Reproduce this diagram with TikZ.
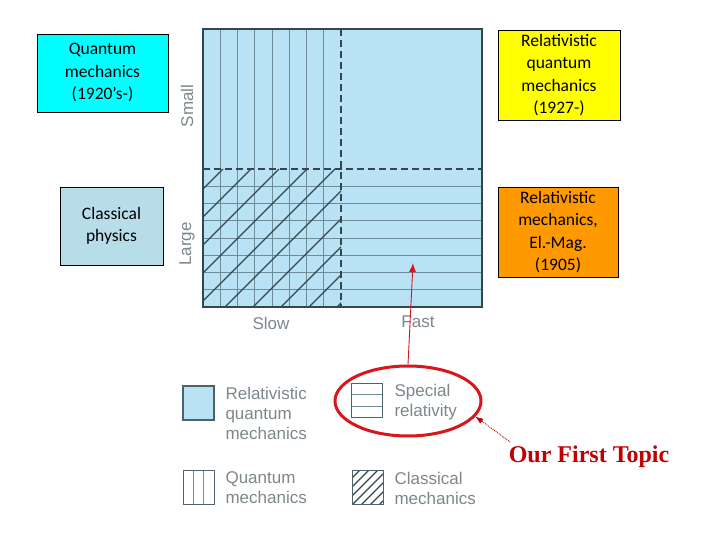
\documentclass[tikz,border=0pt]{standalone}
\usepackage{fontspec}
\setmainfont{Carlito}
\newfontfamily\chartfont{Liberation Sans}
\newfontfamily\topicfont{Liberation Serif}
\usepackage{xcolor}
\usetikzlibrary{arrows,arrows.meta,shapes}

\definecolor{chartblue}{HTML}{B9E3F5}
\definecolor{gridline}{HTML}{6F8C99}
\definecolor{hatchline}{HTML}{34474F}
\definecolor{boxcyan}{HTML}{00FFFF}
\definecolor{boxgrey}{HTML}{B7DDE8}
\definecolor{boxyellow}{HTML}{FFFF00}
\definecolor{boxorange}{HTML}{FF9900}
\definecolor{labelgrey}{HTML}{7D878C}
\definecolor{topicred}{HTML}{C00000}
\definecolor{ringred}{HTML}{D9161C}

\begin{document}
\begin{tikzpicture}[x=1pt,y=-1pt]
\tikzstyle{every node}=[font=\fontsize{17.5}{22.5}\selectfont]
\tikzstyle{era}=[draw,thin,align=center,inner sep=2pt]
\tikzstyle{axis}=[font=\chartfont\fontsize{17}{20}\selectfont,text=labelgrey]
\tikzstyle{key}=[draw=gridline!70!black,line width=1.4pt,minimum width=31pt,minimum height=34pt,inner sep=0pt]
\tikzstyle{keytext}=[font=\chartfont\fontsize{17}{20}\selectfont,text=labelgrey,align=left,anchor=west]
\tikzstyle{border}=[hatchline,dash pattern=on 7pt off 4pt,line width=1.4pt]
\useasboundingbox[fill=white] (0,0) rectangle (720,540);

% chart
\fill[chartblue] (203,29) rectangle (482,307);
\foreach \i in {1,...,7}
  \draw[gridline,line width=0.9pt] ({203+17.25*\i},29) -- ({203+17.25*\i},307);
\foreach \i in {1,...,7}
  \draw[gridline,line width=0.9pt] (203,{169+17.25*\i}) -- (482,{169+17.25*\i});
\begin{scope}
\clip (203,169) rectangle (341,307);
\foreach \c in {392,420,...,644}
  \draw[hatchline,line width=1.3pt] ({\c-307},307) -- ({\c-169},169);
\end{scope}
\draw[border] (203,169) -- (482,169);
\draw[border] (341,29) -- (341,307);
\draw[hatchline,line width=1.5pt] (203,29) rectangle (482,307);

\node at (271,323) [axis] (slow) {Slow};
\node at (418,322) [axis] (fast) {Fast};
\node at (187,106) [axis,rotate=90] (small) {Small};
\node at (187,244) [axis,rotate=90] (large) {Large};
\coordinate (fastpt) at (413,263);

% era boxes
\node at (102.5,73) [era,fill=boxcyan,minimum width=131pt,minimum height=78pt] (qm) {Quantum\\mechanics\\(1920’s-)};
\node at (111.5,226) [era,fill=boxgrey,minimum width=103pt,minimum height=78pt] (cp) {Classical\\physics};
\node at (559,75) [era,fill=boxyellow,minimum width=122pt,minimum height=90pt] (rqm) {Relativistic\\quantum\\mechanics\\(1927-)};
\node at (558,232) [era,fill=boxorange,minimum width=120pt,minimum height=90pt] (rm) {Relativistic\\mechanics,\\El.-Mag.\\(1905)};

% legend
\node at (198.5,403) [key,fill=chartblue] (k1) {};
\node at (367,400.5) [key,path picture={
  \draw[gridline,line width=0.8pt] ([yshift=-11pt]path picture bounding box.north west) -- ++(40pt,0pt);
  \draw[gridline,line width=0.8pt] ([yshift=11pt]path picture bounding box.south west) -- ++(40pt,0pt);}] (k2) {};
\node at (199,487.5) [key,path picture={
  \draw[gridline,line width=0.8pt] ([xshift=10pt]path picture bounding box.south west) -- ++(0pt,40pt);
  \draw[gridline,line width=0.8pt] ([xshift=20pt]path picture bounding box.south west) -- ++(0pt,40pt);}] (k3) {};
\node at (368,487.5) [key,path picture={
  \foreach \d in {-27,-18,...,27}
    \draw[hatchline,line width=1.1pt] ([xshift=\d pt]path picture bounding box.south west) -- ++(40pt,40pt);}] (k4) {};

\node at (222,413) [keytext] (t1) {Relativistic\\quantum\\mechanics};
\node at (391,402) [keytext] (t2) {Special\\relativity};
\node at (222,488) [keytext] (t3) {Quantum\\mechanics};
\node at (391,488) [keytext] (t4) {Classical\\mechanics};

% first topic
\node at (408,401) [ellipse,draw=ringred,line width=3pt,minimum width=146pt,minimum height=70pt] (ring) {};
\node at (589,457) [font=\topicfont\bfseries\fontsize{24}{28}\selectfont,text=topicred] (topic) {Our First Topic};

\path [draw=ringred,line width=0.9pt,-{Latex[length=9pt,width=7pt]}] (ring.north) -- (fastpt);
\path [draw=topicred,densely dotted,line width=0.9pt,-{Latex[length=8pt,width=6pt]}] ([shift={(5,-15)}]topic.west) -- (ring.-13);

\end{tikzpicture}
\end{document}
